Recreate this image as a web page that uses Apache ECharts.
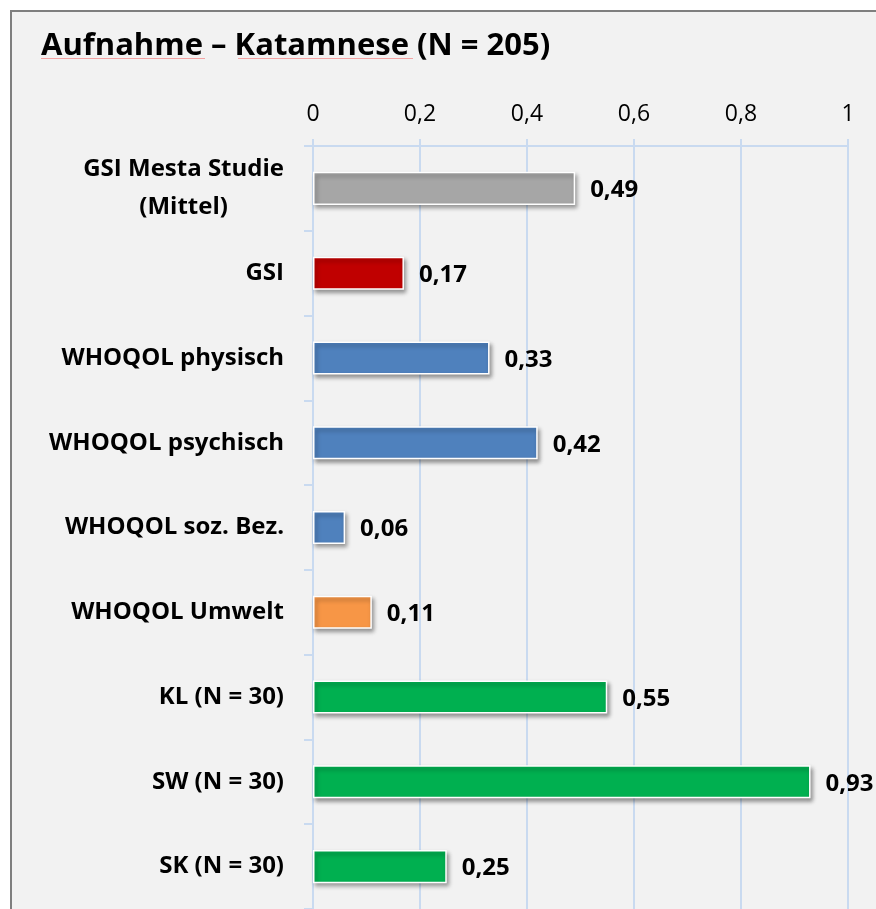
<!DOCTYPE html>
<html>
<head>
<meta charset="utf-8">
<script src="https://cdn.jsdelivr.net/npm/echarts@6/dist/echarts.min.js"></script>
<style>
  html, body { margin: 0; padding: 0; background: #ffffff; }
  #chart { width: 876px; height: 909px; }
</style>
</head>
<body>
<div id="chart"></div>
<script>
// Effect sizes, admission vs. follow-up
const categories = [
  'GSI Mesta Studie\n(Mittel)',
  'GSI',
  'WHOQOL physisch',
  'WHOQOL psychisch',
  'WHOQOL soz. Bez.',
  'WHOQOL Umwelt',
  'KL (N = 30)',
  'SW (N = 30)',
  'SK (N = 30)'
];
const values = [0.49, 0.17, 0.33, 0.42, 0.06, 0.11, 0.55, 0.93, 0.25];
const tickValues = [0, 0.2, 0.4, 0.6, 0.8, 1];

// One fill per bar: reference, GSI, WHOQOL domains, environment, subgroups
const barColors = ['#a6a6a6', '#c00000', '#4f81bd', '#4f81bd', '#4f81bd', '#f79646', '#00b050', '#00b050', '#00b050'];

const FONT = '"Open Sans", "Noto Sans", sans-serif';
const fmt = v => String(v).replace('.', ',');
const gridColor = '#c9daf0';

const chart = echarts.init(document.getElementById('chart'), null, { renderer: 'canvas' });

chart.setOption({
  backgroundColor: 'transparent',
  animation: false,
  title: {
    text: 'Aufnahme – Katamnese (N = 205)',
    left: 36,
    top: 26,
    textStyle: { fontFamily: FONT, fontWeight: 'bold', fontSize: 31, color: '#000' }
  },
  graphic: {
    elements: [
      {
        type: 'rect', z: -10, silent: true,
        shape: { x: 11, y: 11, width: 880, height: 920 },
        style: { fill: '#f2f2f2', stroke: '#7f7f7f', lineWidth: 2 }
      },
      {
        type: 'line', z: 10, silent: true,
        shape: { x1: 41, y1: 58.5, x2: 205, y2: 58.5 },
        style: { stroke: '#f4a3a3', lineWidth: 1 }
      },
      {
        type: 'line', z: 10, silent: true,
        shape: { x1: 238, y1: 58.5, x2: 413, y2: 58.5 },
        style: { stroke: '#f4a3a3', lineWidth: 1 }
      }
    ]
  },
  grid: { left: 313, right: 28, top: 146, bottom: 0, containLabel: false },
  xAxis: {
    type: 'value',
    position: 'top',
    min: 0,
    max: 1,
    interval: 0.2,
    axisLine: { show: true, lineStyle: { color: gridColor, width: 2 } },
    axisTick: { show: true, inside: false, length: 7, lineStyle: { color: gridColor, width: 2 } },
    splitLine: { show: true, lineStyle: { color: gridColor, width: 2 } },
    axisLabel: {
      margin: 20,
      fontFamily: FONT, fontSize: 23, color: '#000',
      formatter: v => tickValues.includes(Math.round(v * 10) / 10) ? fmt(Math.round(v * 10) / 10) : ''
    }
  },
  yAxis: {
    type: 'category',
    inverse: true,
    data: categories,
    axisLine: { show: true, lineStyle: { color: gridColor, width: 2 } },
    axisTick: { show: true, inside: false, length: 9, alignWithLabel: false, lineStyle: { color: gridColor, width: 2 } },
    splitLine: { show: false },
    axisLabel: {
      margin: 29,
      formatter: v => v.split('\n').map(l => '{c|' + l + '}').join('\n'),
      rich: {
        c: { align: 'center', fontFamily: FONT, fontWeight: 'bold', fontSize: 24, lineHeight: 38, color: '#000' }
      }
    }
  },
  series: [{
    type: 'bar',
    barWidth: '39%',
    data: values.map((v, i) => ({
      value: v,
      itemStyle: { color: barColors[i] }
    })),
    itemStyle: {
      borderColor: '#ffffff',
      borderWidth: 1.5,
      shadowColor: 'rgba(0,0,0,0.38)',
      shadowBlur: 4,
      shadowOffsetX: 2,
      shadowOffsetY: 3
    },
    label: {
      show: true,
      position: 'right',
      distance: 15,
      offset: [0, 2],
      fontFamily: FONT, fontWeight: 'bold', fontSize: 24, color: '#000',
      formatter: p => fmt(p.value)
    }
  }]
});
</script>
</body>
</html>
